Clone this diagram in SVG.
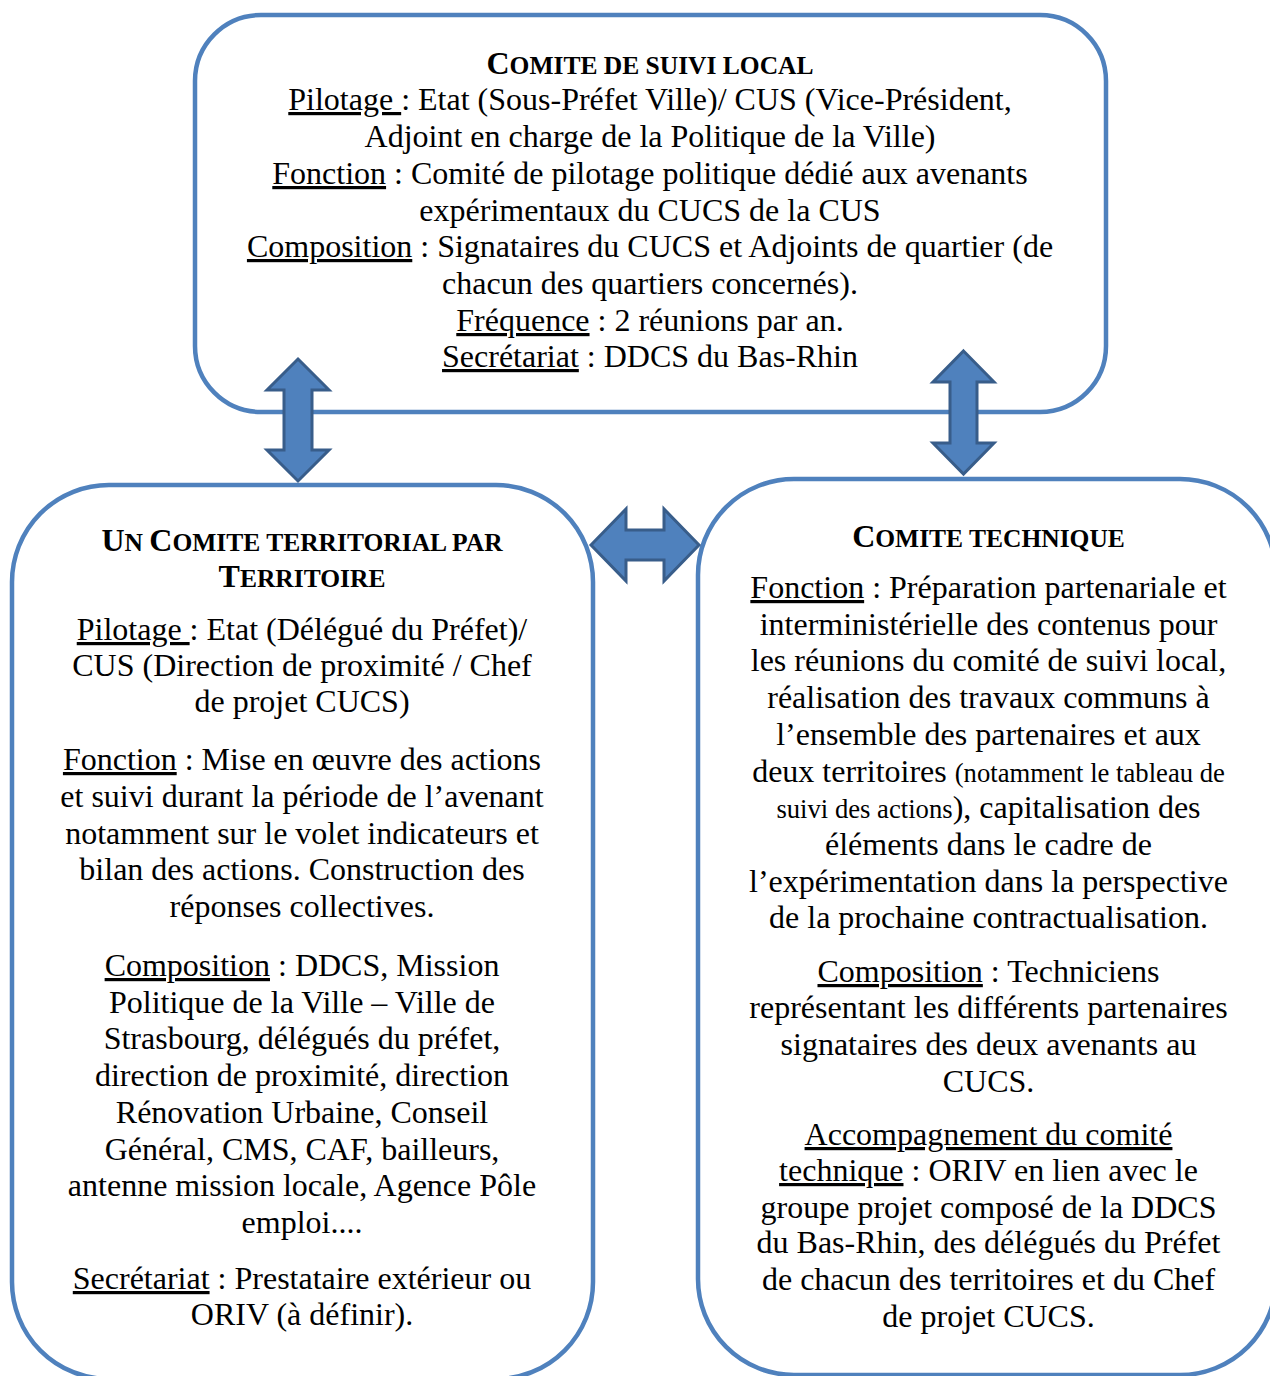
<svg xmlns="http://www.w3.org/2000/svg" width="1270" height="1376" viewBox="0 0 1270 1376">
<style>
.box{fill:#ffffff;stroke:#4F81BD;stroke-width:4.5}
.arr{fill:#4F81BD;stroke:#385D8A;stroke-width:3;stroke-linejoin:miter}
text{font-family:"Liberation Serif","Times New Roman",serif;font-size:32px;fill:#000;text-anchor:middle}
.t{font-weight:bold}
.sc{font-size:25.5px}
.u{text-decoration:underline}
.sm{font-size:26.67px}
</style>
<rect width="1270" height="1376" fill="#ffffff"/>

<g id="comite-suivi-local">
<rect class="box" x="195" y="15" width="911" height="397" rx="66" ry="66"/>
<text x="650" y="74" class="t">C<tspan class="sc">OMITE DE SUIVI LOCAL</tspan></text>
<text x="650" y="110"><tspan class="u">Pilotage </tspan>: Etat (Sous-Préfet Ville)/ CUS (Vice-Président,</text>
<text x="650" y="147">Adjoint en charge de la Politique de la Ville)</text>
<text x="650" y="184"><tspan class="u">Fonction</tspan> : Comité de pilotage politique dédié aux avenants</text>
<text x="650" y="221">expérimentaux du CUCS de la CUS</text>
<text x="650" y="257"><tspan class="u">Composition</tspan> : Signataires du CUCS et Adjoints de quartier (de</text>
<text x="650" y="294">chacun des quartiers concernés).</text>
<text x="650" y="331"><tspan class="u">Fréquence</tspan> : 2 réunions par an.</text>
<text x="650" y="367"><tspan class="u">Secrétariat</tspan> : DDCS du Bas-Rhin</text>
</g>

<g id="comite-territorial">
<rect class="box" x="12" y="485" width="581" height="894" rx="97" ry="97"/>
<text x="302" y="551" class="t">U<tspan class="sc">N </tspan>C<tspan class="sc">OMITE TERRITORIAL PAR</tspan></text>
<text x="302" y="587" class="t">T<tspan class="sc">ERRITOIRE</tspan></text>
<text x="302" y="640"><tspan class="u">Pilotage </tspan>: Etat (Délégué du Préfet)/</text>
<text x="302" y="676">CUS (Direction de proximité / Chef</text>
<text x="302" y="712">de projet CUCS)</text>
<text x="302" y="770"><tspan class="u">Fonction</tspan> : Mise en œuvre des actions</text>
<text x="302" y="807">et suivi durant la période de l’avenant</text>
<text x="302" y="844">notamment sur le volet indicateurs et</text>
<text x="302" y="880">bilan des actions. Construction des</text>
<text x="302" y="917">réponses collectives.</text>
<text x="302" y="976"><tspan class="u">Composition</tspan> : DDCS, Mission</text>
<text x="302" y="1013">Politique de la Ville – Ville de</text>
<text x="302" y="1049">Strasbourg, délégués du préfet,</text>
<text x="302" y="1086">direction de proximité, direction</text>
<text x="302" y="1123">Rénovation Urbaine, Conseil</text>
<text x="302" y="1160">Général, CMS, CAF, bailleurs,</text>
<text x="302" y="1196">antenne mission locale, Agence Pôle</text>
<text x="302" y="1233">emploi....</text>
<text x="302" y="1289"><tspan class="u">Secrétariat</tspan> : Prestataire extérieur ou</text>
<text x="302" y="1325">ORIV (à définir).</text>
</g>

<g id="comite-technique">
<rect class="box" x="698" y="479" width="578" height="896" rx="96" ry="96"/>
<text x="988.5" y="547" class="t">C<tspan class="sc">OMITE TECHNIQUE</tspan></text>
<text x="988.5" y="598"><tspan class="u">Fonction</tspan> : Préparation partenariale et</text>
<text x="988.5" y="635">interministérielle des contenus pour</text>
<text x="988.5" y="671">les réunions du comité de suivi local,</text>
<text x="988.5" y="708">réalisation des travaux communs à</text>
<text x="988.5" y="745">l’ensemble des partenaires et aux</text>
<text x="988.5" y="782">deux territoires <tspan class="sm">(notamment le tableau de</tspan></text>
<text x="988.5" y="818"><tspan class="sm">suivi des actions</tspan>), capitalisation des</text>
<text x="988.5" y="855">éléments dans le cadre de</text>
<text x="988.5" y="892">l’expérimentation dans la perspective</text>
<text x="988.5" y="928">de la prochaine contractualisation.</text>
<text x="988.5" y="982"><tspan class="u">Composition</tspan> : Techniciens</text>
<text x="988.5" y="1018">représentant les différents partenaires</text>
<text x="988.5" y="1055">signataires des deux avenants au</text>
<text x="988.5" y="1092">CUCS.</text>
<text x="988.5" y="1145"><tspan class="u">Accompagnement du comité</tspan></text>
<text x="988.5" y="1181"><tspan class="u">technique</tspan> : ORIV en lien avec le</text>
<text x="988.5" y="1218">groupe projet composé de la DDCS</text>
<text x="988.5" y="1253">du Bas-Rhin, des délégués du Préfet</text>
<text x="988.5" y="1290">de chacun des territoires et du Chef</text>
<text x="988.5" y="1327">de projet CUCS.</text>
</g>

<g id="connectors">
<polygon class="arr" points="298,359 329,390 312,390 312,450 329,450 298,481 267,450 284,450 284,390 267,390"/>
<polygon class="arr" points="963.5,351 994,382 977,382 977,443 994,443 963.5,474 933,443 950,443 950,382 933,382"/>
<polygon class="arr" points="591,545 626,509 626,530 664,530 664,509 699,545 664,581 664,560 626,560 626,581"/>
</g>
</svg>
